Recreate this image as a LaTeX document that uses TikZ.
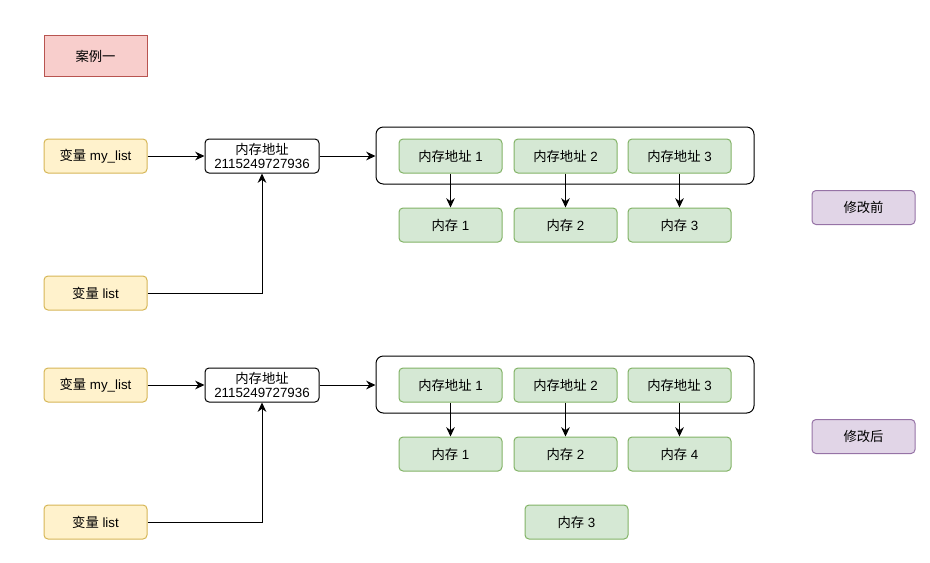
\documentclass[tikz,border=0pt]{standalone}
\usepackage{fontspec}
\setmainfont{Liberation Sans}
\newfontfamily\cjk{Noto Sans CJK SC}
\usetikzlibrary{arrows.meta,positioning}

\definecolor{titlefill}{HTML}{F8CECC}
\definecolor{titledraw}{HTML}{B85450}
\definecolor{varfill}{HTML}{FFF2CC}
\definecolor{vardraw}{HTML}{D6B656}
\definecolor{memfill}{HTML}{D5E8D4}
\definecolor{memdraw}{HTML}{82B366}
\definecolor{stagefill}{HTML}{E1D5E7}
\definecolor{stagedraw}{HTML}{9673A6}

\begin{document}
\begin{tikzpicture}[x=0.75pt,y=-0.75pt,
  every node/.style={font=\fontsize{10}{11}\selectfont},
  box/.style={draw,line width=0.75pt,rounded corners=3pt,minimum width=77.25pt,minimum height=25.5pt,inner sep=0pt,align=center},
  varbox/.style={box,fill=varfill,draw=vardraw},
  membox/.style={box,fill=memfill,draw=memdraw},
  stagebox/.style={box,fill=stagefill,draw=stagedraw},
  link/.style={-{Stealth[length=7pt,width=6.5pt]},line width=0.75pt}]

\useasboundingbox (0,0) rectangle (930,562);

\node[box,rounded corners=0pt,minimum height=30.75pt,fill=titlefill,draw=titledraw] (title) at (95.5,56) {{\cjk 案例一}};

\foreach \g/\dy/\stage/\lastmem in {1/0/修改前/3,2/229/修改后/4} {
\begin{scope}[shift={(0,\dy)}]
  \node[varbox] (my\g) at (95.5,156) {{\cjk 变量} my\_list};
  \node[varbox] (lst\g) at (95.5,293) {{\cjk 变量} list};
  \node[box,minimum width=85.5pt] (addr\g) at (262,156) {{\cjk 内存地址}\\2115249727936};
  \node[draw,line width=0.75pt,rounded corners=5.5pt,minimum width=283.5pt,minimum height=42.75pt] (arr\g) at (565,155.5) {};
  \foreach \i/\x/\m in {1/450.5/1,2/565.5/2,3/679.5/\lastmem} {
    \node[membox] (p\g\i) at (\x,156) {{\cjk 内存地址} \i};
    \node[membox] (m\g\i) at (\x,225) {{\cjk 内存} \m};
    \draw[link] (p\g\i) -- (m\g\i);
  }
  \node[stagebox] (stage\g) at (863.5,207.5) {{\cjk \stage}};

  \draw[link] (my\g) -- (addr\g);
  \draw[link] (lst\g) -| (addr\g);
  \draw[link] (addr\g.east) -- (addr\g.east -| arr\g.west);
\end{scope}
}

% the old element left behind
\node[membox] (old3) at (576.5,522) {{\cjk 内存} 3};

\end{tikzpicture}
\end{document}
